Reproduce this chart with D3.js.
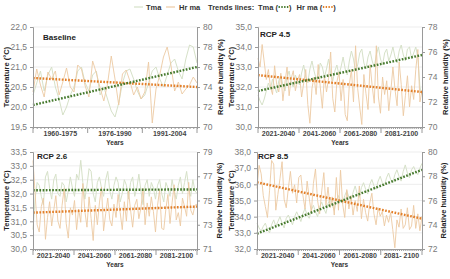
<!DOCTYPE html>
<html>
<head>
<meta charset="utf-8">
<script src="https://cdn.jsdelivr.net/npm/d3@7"></script>
<style>
  body { margin: 0; background: #fff; }
  svg { display: block; font-family: "Liberation Sans Narrow", "Liberation Sans", Arial, sans-serif; }
</style>
</head>
<body>
<div id="chart"></div>
<script>
// Categories (x axis bands)
const baseCats = ["1960-1975", "1976-1990", "1991-2004"];
const futureCats = ["2021-2040", "2041-2060", "2061-2080", "2081-2100"];
const futureCats85 = ["2021-2040", "2041-2060", "2061-2080", "2081- 2100"];

// Baseline 1960-2004
const tmaBase = [20.3, 20.6, 20.9, 20.4, 20.8, 21.0, 20.5, 20.2, 19.8, 20.0, 20.3, 20.5, 20.9, 21.0, 20.6,
  20.4, 20.8, 20.9, 20.3, 20.5, 20.2, 19.9, 19.75, 20.1, 20.6, 20.9, 20.95, 20.7, 20.4, 20.2,
  20.3, 20.6, 20.9, 21.0, 20.7, 20.5, 20.8, 21.1, 21.2, 20.9, 20.7, 21.2, 21.55, 21.5, 21.1];
const hrBase = [73.5, 75.8, 74.2, 73.0, 75.5, 74.8, 75.6, 73.2, 74.5, 75.9, 74.0, 73.5, 76.2, 75.8, 74.1,
  73.0, 76.6, 75.4, 73.9, 72.6, 74.3, 77.1, 74.8, 72.2, 75.3, 75.7, 74.6, 73.2, 74.0, 72.8,
  73.5, 76.5, 70.4, 73.8, 75.2, 77.0, 78.0, 76.2, 73.6, 74.5, 73.3, 73.8, 74.2, 75.0, 74.4];

// RCP 4.5, 2021-2100
const tma45 = [31.6, 31.3, 31.1, 31.4, 31.8, 32.2, 31.9, 32.4, 32.0, 31.7, 32.3, 32.6, 32.1, 31.8, 32.5, 32.8, 32.2, 32.0, 32.6, 32.3,
  32.1, 32.7, 33.1, 32.5, 32.2, 32.9, 33.3, 32.8, 32.4, 32.6, 33.2, 33.0, 32.5, 32.9, 33.4, 32.7, 32.3, 32.8, 33.1, 32.6,
  33.0, 33.5, 32.9, 32.6, 33.3, 33.8, 33.4, 32.8, 33.1, 33.7, 33.9, 33.2, 32.9, 33.5, 33.8, 33.3, 33.0, 33.6, 34.0, 33.4,
  33.1, 33.7, 33.9, 33.3, 33.6, 34.0, 33.5, 33.2, 33.8, 34.1, 33.6, 33.3, 33.9, 34.0, 33.4, 33.7, 34.0, 33.5, 32.0, 31.6];
const hr45 = [75.5, 74.8, 76.6, 75.2, 73.8, 74.6, 73.2, 72.6, 74.9, 73.4, 72.8, 74.3, 72.1, 73.6, 74.8, 72.5, 73.9, 74.5, 72.9, 73.7,
  74.2, 72.4, 73.5, 74.6, 71.8, 70.3, 73.1, 74.0, 72.6, 75.0, 73.2, 71.5, 74.1, 72.8, 73.9, 76.0, 72.3, 71.2, 73.6, 74.4,
  72.1, 73.8, 71.0, 70.5, 73.4, 74.6, 72.0, 76.5, 73.1, 71.6, 70.2, 74.2, 72.7, 71.4, 75.0, 73.3, 71.9, 76.5, 72.4, 71.1,
  74.0, 72.6, 73.7, 71.3, 72.9, 74.8, 73.0, 71.7, 75.2, 73.4, 70.9, 72.5, 74.1, 71.6, 73.3, 72.2, 74.6, 76.2, 72.0, 72.9];

// RCP 2.6, 2021-2100
const tma26 = [30.7, 31.8, 32.4, 32.3, 31.9, 31.6, 32.6, 32.8, 32.2, 31.8, 32.5, 32.7, 32.0, 31.9, 32.4, 32.3, 31.7, 32.1, 32.6, 32.2,
  31.9, 32.7, 32.5, 33.2, 32.4, 31.8, 32.3, 32.9, 32.8, 32.0, 31.7, 32.4, 32.6, 32.2, 31.9, 32.5, 32.8, 32.1, 31.8, 32.3,
  32.6, 32.4, 31.7, 32.0, 32.5, 32.3, 31.8, 32.4, 32.6, 31.9, 32.2, 32.7, 32.1, 31.6, 32.3, 32.5, 31.9, 32.4, 32.2, 31.8,
  32.3, 32.5, 32.0, 31.7, 32.4, 32.2, 31.9, 32.5, 32.1, 31.8, 32.3, 32.6, 32.0, 32.4, 32.8, 32.2, 31.9, 32.5, 32.1, 32.0];
const hr26 = [78.3, 75.6, 73.0, 72.4, 74.5, 75.2, 71.8, 73.6, 74.9, 72.9, 74.2, 75.4, 73.3, 72.7, 74.6, 76.0, 73.1, 71.9, 74.4, 73.8,
  75.0, 72.6, 74.3, 73.2, 76.4, 74.1, 72.8, 75.3, 73.5, 71.7, 74.6, 73.0, 74.8, 76.1, 72.5, 73.9, 75.2, 73.4, 72.9, 74.7,
  73.6, 75.5, 74.0, 72.6, 74.9, 73.3, 75.8, 74.2, 72.8, 74.6, 75.1, 73.5, 74.4, 76.0, 73.0, 74.8, 73.7, 75.3, 74.1, 72.4,
  74.6, 75.9, 72.7, 72.6, 74.3, 75.5, 73.1, 74.8, 76.3, 73.4, 74.0, 72.9, 75.2, 74.5, 73.7, 76.5, 74.2, 73.8, 74.6, 74.7];

// RCP 8.5, 2021-2100
const tma85 = [33.6, 33.3, 33.1, 33.4, 33.6, 33.2, 33.0, 33.5, 33.8, 33.4, 33.7, 34.0, 33.6, 33.3, 33.9, 34.1, 33.8, 33.5, 34.0, 34.3,
  34.0, 33.7, 34.2, 34.5, 34.1, 33.9, 34.4, 34.7, 34.3, 34.0, 34.6, 34.9, 34.5, 34.2, 34.8, 35.1, 34.7, 34.4, 35.0, 35.3,
  35.0, 34.8, 35.3, 35.6, 35.2, 35.0, 35.5, 35.9, 35.4, 35.2, 35.8, 36.1, 35.7, 35.4, 36.0, 36.3, 35.9, 35.7, 36.2, 36.5,
  36.1, 35.9, 36.4, 36.7, 36.3, 36.1, 36.6, 36.9, 36.5, 36.2, 36.8, 37.2, 36.7, 36.4, 36.9, 37.1, 36.8, 36.6, 37.0, 37.3];
const hr85 = [77.0, 78.9, 78.2, 76.4, 75.5, 74.6, 76.8, 79.3, 79.0, 75.2, 76.5, 77.8, 79.2, 76.1, 75.4, 77.0, 78.4, 76.6, 77.3, 75.8,
  77.9, 78.1, 76.4, 75.3, 77.6, 76.2, 75.0, 77.4, 78.6, 76.0, 74.9, 76.8, 78.3, 75.6, 77.1, 75.4, 76.3, 74.8, 77.9, 75.2,
  78.5, 75.7, 74.6, 76.9, 75.3, 76.4, 74.8, 76.0, 75.1, 77.2, 74.5, 76.1, 75.0, 74.3, 75.8, 76.6, 74.9, 74.0, 75.4, 74.7,
  75.1, 73.9, 74.8, 74.2, 75.0, 73.6, 72.1, 74.4, 73.8, 75.3, 73.7, 74.0, 75.4, 73.6, 73.9, 75.6, 73.7, 74.9, 73.5, 74.7];

// Trend lines (start, end)
const trendTmaBase = [20.05, 21.0], trendHrBase = [74.9, 74.0];
const trendTma45 = [31.8, 33.6], trendHr45 = [74.15, 72.8];
const trendTma26 = [32.12, 32.15], trendHr26 = [74.0, 74.5];
const trendTma85 = [32.95, 36.9], trendHr85 = [77.5, 74.5];

// Axis ticks
const ticksLBase = [19.5, 20, 20.5, 21, 21.5, 22], ticksRBase = [70, 72, 74, 76, 78, 80];
const ticksL45 = [30, 31, 32, 33, 34, 35], ticksR45 = [70, 72, 74, 76, 78];
const ticksL26 = [30, 30.5, 31, 31.5, 32, 32.5, 33, 33.5], ticksR26 = [71, 73, 75, 77, 79];
const ticksL85 = [32, 33, 34, 35, 36, 37, 38], ticksR85 = [72, 74, 76, 78, 80];

const baseYears = d3.range(1960, 2005);
const futYears = d3.range(2021, 2101);

const C = { tma: "#d6e1c8", hr: "#ecc9a3", tTma: "#467a2e", tHr: "#e3802a", axis: "#9a9a9a", grid: "#e9e9e9", tick: "#7a7a7a" };

const svg = d3.select("#chart").append("svg").attr("width", 450).attr("height", 279);

const fmt = d => d3.format(".1f")(d).replace(".", ",");

const panels = [
  { name: "Baseline", l: 33, r: 197, t: 27, b: 127, years: baseYears, cats: baseCats, tma: tmaBase, hr: hrBase,
    dl: [19.5, 22], dr: [70, 80], tl: ticksLBase, tr: ticksRBase, trT: trendTmaBase, trH: trendHrBase, ltx: 6, rtx: 220, lx: 43, ly: 40 },
  { name: "RCP 4.5", l: 258, r: 422, t: 27, b: 127, years: futYears, cats: futureCats, tma: tma45, hr: hr45,
    dl: [30, 35], dr: [70, 78], tl: ticksL45, tr: ticksR45, trT: trendTma45, trH: trendHr45, ltx: 231, rtx: 445, lx: 260, ly: 37 },
  { name: "RCP 2.6", l: 33, r: 197, t: 152, b: 249, years: futYears, cats: futureCats, tma: tma26, hr: hr26,
    dl: [30, 33.5], dr: [71, 79], tl: ticksL26, tr: ticksR26, trT: trendTma26, trH: trendHr26, ltx: 6, rtx: 219, lx: 37, ly: 159 },
  { name: "RCP 8.5", l: 257, r: 422, t: 152, b: 249, years: futYears, cats: futureCats85, tma: tma85, hr: hr85,
    dl: [32, 38], dr: [72, 80], tl: ticksL85, tr: ticksR85, trT: trendTma85, trH: trendHr85, ltx: 231, rtx: 443, lx: 258, ly: 159 }
];

panels.forEach(p => {
  const g = svg.append("g");
  const x = d3.scaleLinear().domain(d3.extent(p.years)).range([p.l, p.r]);
  const xb = d3.scaleBand().domain(p.cats).range([p.l, p.r]);
  const yl = d3.scaleLinear().domain(p.dl).range([p.b, p.t]);
  const yr = d3.scaleLinear().domain(p.dr).range([p.b, p.t]);

  // gridlines
  g.append("g").selectAll("line").data(p.tl.slice(1)).join("line")
    .attr("x1", p.l).attr("x2", p.r).attr("y1", d => yl(d)).attr("y2", d => yl(d))
    .attr("stroke", C.grid).attr("stroke-width", 0.8);

  // series
  const lineT = d3.line().x((d, i) => x(p.years[i])).y(d => yl(d));
  const lineH = d3.line().x((d, i) => x(p.years[i])).y(d => yr(d));
  g.append("path").datum(p.tma).attr("d", lineT).attr("fill", "none").attr("stroke", C.tma).attr("stroke-width", 1);
  g.append("path").datum(p.hr).attr("d", lineH).attr("fill", "none").attr("stroke", C.hr).attr("stroke-width", 0.9);

  // trends
  const ends = d3.extent(p.years);
  g.append("line").attr("x1", x(ends[0])).attr("x2", x(ends[1]))
    .attr("y1", yr(p.trH[0])).attr("y2", yr(p.trH[1]))
    .attr("stroke", C.tHr).attr("stroke-width", 2.4).attr("stroke-dasharray", "1.7,1.5");
  g.append("line").attr("x1", x(ends[0])).attr("x2", x(ends[1]))
    .attr("y1", yl(p.trT[0])).attr("y2", yl(p.trT[1]))
    .attr("stroke", C.tTma).attr("stroke-width", 2.4).attr("stroke-dasharray", "1.7,1.5");

  // left axis
  const ax = g.append("g").attr("transform", `translate(${p.l},0)`)
    .call(d3.axisLeft(yl).tickValues(p.tl).tickFormat(fmt).tickSize(3).tickPadding(3));
  // right axis
  const ar = g.append("g").attr("transform", `translate(${p.r},0)`)
    .call(d3.axisRight(yr).tickValues(p.tr).tickFormat(d3.format("d")).tickSize(3).tickPadding(3));
  // bottom axis: yearly minor ticks + band separators
  const ab = g.append("g").attr("transform", `translate(0,${p.b})`)
    .call(d3.axisBottom(x).tickValues(p.years).tickSize(2).tickFormat(""));
  const seps = p.cats.map(c => xb(c)).concat([p.r]);
  g.append("g").selectAll("line").data(seps).join("line")
    .attr("x1", d => d).attr("x2", d => d).attr("y1", p.b).attr("y2", p.b + 6)
    .attr("stroke", C.axis).attr("stroke-width", 1);
  g.append("g").selectAll("text").data(p.cats).join("text")
    .attr("x", d => xb(d) + xb.bandwidth() / 2).attr("y", p.b + 9)
    .attr("text-anchor", "middle").attr("font-size", 7).attr("font-weight", "bold").attr("fill", "#444")
    .text(d => d);

  [ax, ar, ab].forEach(a => {
    a.select(".domain").attr("stroke", C.axis);
    a.selectAll(".tick line").attr("stroke", C.axis);
    a.selectAll(".tick text").attr("fill", C.tick).attr("font-size", 8.5)
      .attr("font-family", "'Liberation Sans Narrow', 'Liberation Sans', sans-serif");
  });

  // titles
  g.append("text").attr("x", p.lx).attr("y", p.ly).attr("font-size", 8).attr("font-weight", "bold")
    .attr("fill", "#222").text(p.name);
  g.append("text").attr("transform", `translate(${p.ltx},${(p.t + p.b) / 2}) rotate(-90)`)
    .attr("text-anchor", "middle").attr("dy", "0.35em").attr("font-size", 7.5).attr("font-weight", "bold")
    .attr("fill", "#222").text("Temperature (°C)");
  g.append("text").attr("transform", `translate(${p.rtx},${(p.t + p.b) / 2}) rotate(-90)`)
    .attr("text-anchor", "middle").attr("dy", "0.35em").attr("font-size", 7.5).attr("font-weight", "bold")
    .attr("fill", "#222").text("Relative humidity (%)");
  g.append("text").attr("x", (p.l + p.r) / 2).attr("y", p.b + 18).attr("text-anchor", "middle")
    .attr("font-size", 6.5).attr("font-weight", "bold").attr("fill", "#333").text("Years");
});

// legend
const lg = svg.append("g").attr("font-size", 7.5).attr("font-weight", "bold").attr("fill", "#333");
const ly = 7;
lg.append("line").attr("x1", 134).attr("x2", 143).attr("y1", ly).attr("y2", ly).attr("stroke", C.tma).attr("stroke-width", 1.2);
lg.append("text").attr("x", 146).attr("y", ly).attr("dy", "0.35em").text("Tma");
lg.append("line").attr("x1", 166).attr("x2", 175).attr("y1", ly).attr("y2", ly).attr("stroke", C.hr).attr("stroke-width", 1.2);
lg.append("text").attr("x", 179).attr("y", ly).attr("dy", "0.35em").text("Hr ma");
lg.append("text").attr("x", 208).attr("y", ly).attr("dy", "0.35em").text("Trends lines:");

// trend legend items laid out one after another by measured width
let cx = 258;
[["Tma", C.tTma], ["Hr ma", C.tHr]].forEach(([label, col]) => {
  const t1 = lg.append("text").attr("x", cx).attr("y", ly).attr("dy", "0.35em").text(label + " (");
  cx += t1.node().getComputedTextLength() + 0.5;
  lg.append("line").attr("x1", cx).attr("x2", cx + 10).attr("y1", ly).attr("y2", ly)
    .attr("stroke", col).attr("stroke-width", 1.8).attr("stroke-dasharray", "1.4,1.4");
  cx += 10.5;
  const t2 = lg.append("text").attr("x", cx).attr("y", ly).attr("dy", "0.35em").text(")");
  cx += t2.node().getComputedTextLength() + 5;
});
</script>
</body>
</html>
